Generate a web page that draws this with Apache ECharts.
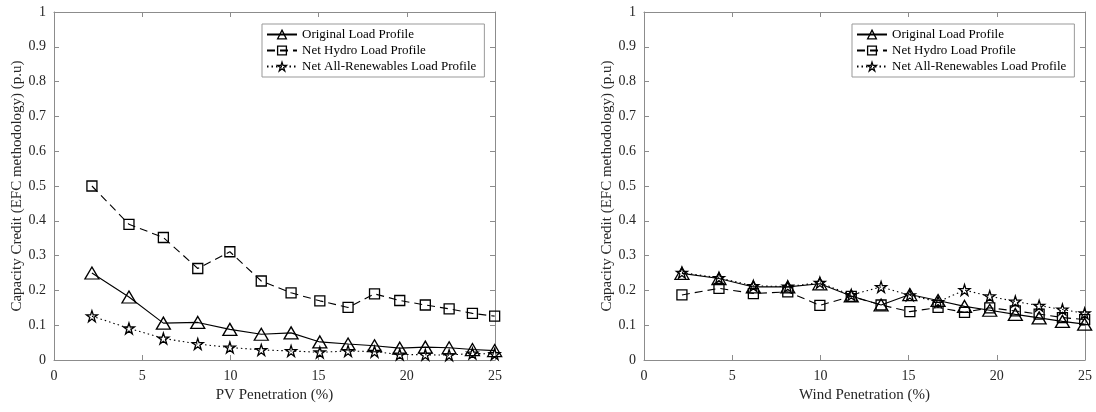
<!DOCTYPE html>
<html><head><meta charset="utf-8">
<script src="https://cdn.jsdelivr.net/npm/echarts@6/dist/echarts.min.js"></script>
<style>html,body{margin:0;padding:0;background:#fff}#c{width:1096px;height:412px}</style>
</head><body><div id="c"></div>
<script>
// Penetration levels (%) — same for both panels
const penetration = [2.15, 4.25, 6.2, 8.15, 9.97, 11.75, 13.44, 15.07, 16.67, 18.17, 19.6, 21.05, 22.4, 23.72, 24.98];

// Left panel: PV penetration
const pvOriginal = [0.250, 0.181, 0.106, 0.108, 0.088, 0.074, 0.078, 0.052, 0.046, 0.041, 0.034, 0.037, 0.035, 0.030, 0.027];
const pvHydro    = [0.500, 0.390, 0.352, 0.263, 0.311, 0.227, 0.193, 0.170, 0.151, 0.190, 0.171, 0.158, 0.147, 0.134, 0.126];
const pvRenew    = [0.126, 0.091, 0.062, 0.046, 0.036, 0.029, 0.026, 0.022, 0.026, 0.024, 0.016, 0.015, 0.014, 0.019, 0.017];

// Right panel: Wind penetration
const windOriginal = [0.249, 0.234, 0.210, 0.210, 0.219, 0.184, 0.158, 0.188, 0.171, 0.154, 0.143, 0.131, 0.121, 0.111, 0.103];
const windHydro    = [0.187, 0.206, 0.191, 0.196, 0.157, 0.183, 0.158, 0.139, 0.151, 0.137, 0.150, 0.141, 0.132, 0.122, 0.116];
const windRenew    = [0.251, 0.236, 0.213, 0.211, 0.222, 0.187, 0.210, 0.186, 0.167, 0.201, 0.183, 0.168, 0.156, 0.145, 0.134];

const seriesNames = ['Original Load Profile', 'Net Hydro Load Profile', 'Net All-Renewables Load Profile'];
const xTitles = ['PV Penetration (%)', 'Wind Penetration (%)'];
const yTitle = 'Capacity Credit (EFC methodology) (p.u)';

const FONT = 'Liberation Serif';
const AXC = '#8c8c8c';
const TXT = '#262626';
const starPath = 'path://M50,2 L61,36 L97,36 L68,57 L79,92 L50,70 L21,92 L32,57 L3,36 L39,36 Z';

function pairs(v){ return penetration.map((x,i)=>[x, v[i]]); }

const grids = [
  {left:54, right:601, top:12, bottom:52},
  {left:644, right:11, top:12, bottom:52}
];

const xAxis = [], yAxis = [];
grids.forEach((g, gi) => {
  xAxis.push({type:'value', gridIndex:gi, min:0, max:25, interval:5,
    name:xTitles[gi], nameLocation:'middle', nameGap:27,
    nameTextStyle:{fontFamily:FONT, fontSize:15, color:TXT},
    axisLine:{show:true, onZero:false, lineStyle:{color:AXC}},
    axisTick:{inside:true, length:5, lineStyle:{color:AXC}},
    axisLabel:{fontFamily:FONT, fontSize:14, color:TXT, margin:9},
    splitLine:{show:false}});
  xAxis.push({type:'value', gridIndex:gi, min:0, max:25, interval:5, position:'top',
    axisLine:{show:true, onZero:false, lineStyle:{color:AXC}},
    axisTick:{inside:true, length:5, lineStyle:{color:AXC}},
    axisLabel:{show:false}, splitLine:{show:false}});
  yAxis.push({type:'value', gridIndex:gi, min:0, max:1, interval:0.1,
    name:yTitle, nameLocation:'middle', nameGap:29, nameRotate:90,
    nameTextStyle:{fontFamily:FONT, fontSize:15, color:TXT},
    axisLine:{show:true, onZero:false, lineStyle:{color:AXC}},
    axisTick:{inside:true, length:5, lineStyle:{color:AXC}},
    axisLabel:{fontFamily:FONT, fontSize:14, color:TXT, margin:8,
      formatter: v => (Math.round(v*10)/10).toString()},
    splitLine:{show:false}});
  yAxis.push({type:'value', gridIndex:gi, min:0, max:1, interval:0.1, position:'right',
    axisLine:{show:true, onZero:false, lineStyle:{color:AXC}},
    axisTick:{inside:true, length:5, lineStyle:{color:AXC}},
    axisLabel:{show:false}, splitLine:{show:false}});
});

const styles = [
  {symbol:'triangle', symbolSize:[14,12], lineType:'solid'},
  {symbol:'rect', symbolSize:10, lineType:[8,5]},
  {symbol:starPath, symbolSize:11, lineType:[1.5,3]}
];
const data = [[pvOriginal, pvHydro, pvRenew],[windOriginal, windHydro, windRenew]];

const series = [];
data.forEach((set, gi) => {
  set.forEach((vals, si) => {
    const st = styles[si];
    series.push({type:'line', name:seriesNames[si], xAxisIndex:gi*2, yAxisIndex:gi*2,
      data:pairs(vals), symbol:st.symbol, symbolSize:st.symbolSize, showSymbol:true,
      animation:false, silent:true,
      lineStyle:{color:'#000', width:1.1, type:st.lineType},
      itemStyle:{color:'rgba(255,255,255,0)', borderColor:'#000', borderWidth:1.3}});
  });
});

const legendBase = {orient:'vertical', top:24, borderColor:'#999', borderWidth:1,
  backgroundColor:'#fff', padding:[4,8,4,4], itemGap:3, itemWidth:30, itemHeight:11,
  itemStyle:{color:'rgba(255,255,255,0)', borderColor:'#000', borderWidth:1.3},
  textStyle:{fontFamily:FONT, fontSize:13, color:'#000'}, data:seriesNames, selectedMode:false};

const chart = echarts.init(document.getElementById('c'), null, {renderer:'canvas'});
chart.setOption({
  animation:false,
  grid:grids,
  xAxis:xAxis, yAxis:yAxis,
  legend:[Object.assign({}, legendBase, {left:262}), Object.assign({}, legendBase, {left:852})],
  series:series
});
</script></body></html>
